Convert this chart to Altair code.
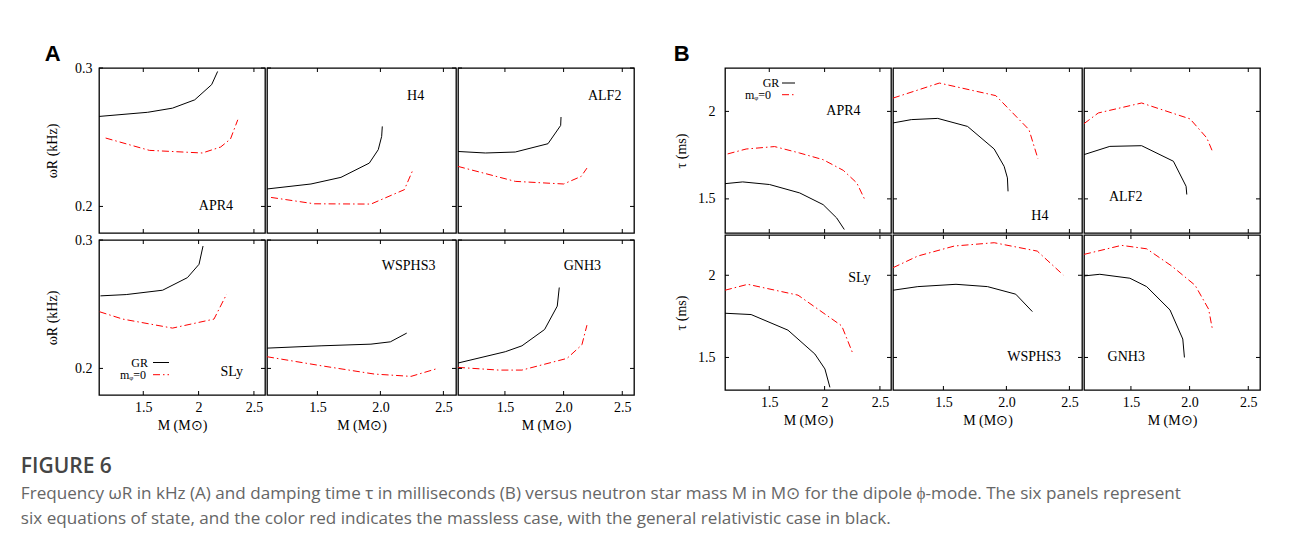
import altair as alt
import pandas as pd

# ---------------- data ----------------
X_DOMAIN = [1.1, 2.6]
X_TICKS = [1.5, 2.0, 2.5]
A_Y_TICKS = [0.2, 0.3]
B_Y_TICKS = [1.5, 2.0]
A_Y_DOMAIN_TOP = [0.1808, 0.3]
A_Y_DOMAIN_BOT = [0.1793, 0.3]
B_Y_DOMAIN_TOP = [1.305, 2.248]
B_Y_DOMAIN_BOT = [1.302, 2.245]

EOS_TOP = ["APR4", "H4", "ALF2"]
EOS_BOT = ["SLy", "WSPHS3", "GNH3"]

# (A) omega_R in kHz versus M
A_APR4_GR = [(1.10, 0.265), (1.54, 0.268), (1.764, 0.271), (1.965, 0.277), (2.118, 0.288), (2.172, 0.2975)]
A_APR4_M0 = [(1.16, 0.2494), (1.555, 0.2405), (2.034, 0.2386), (2.199, 0.2429), (2.288, 0.2487), (2.354, 0.2626)]
A_H4_GR = [(1.1, 0.2126), (1.449, 0.2162), (1.687, 0.2210), (1.912, 0.2313), (1.983, 0.2410), (2.010, 0.2506), (2.015, 0.2578)]
A_H4_M0 = [(1.132, 0.2065), (1.475, 0.2019), (1.925, 0.2017), (2.19, 0.2121), (2.256, 0.2260)]
A_ALF2_GR = [(1.1, 0.2397), (1.333, 0.2386), (1.588, 0.2393), (1.867, 0.2453), (1.975, 0.2585), (1.978, 0.2646)]
A_ALF2_M0 = [(1.1, 0.2289), (1.588, 0.2181), (2.0, 0.2162), (2.15, 0.2217), (2.199, 0.2277)]
A_SLY_GR = [(1.113, 0.2565), (1.346, 0.2575), (1.675, 0.2609), (1.899, 0.2707), (2.004, 0.2811), (2.04, 0.2953)]
A_SLY_M0 = [(1.106, 0.2441), (1.315, 0.2384), (1.764, 0.2314), (2.139, 0.2384), (2.253, 0.2578)]
A_WSPHS3_GR = [(1.1, 0.2158), (1.529, 0.2176), (1.925, 0.2189), (2.079, 0.2207), (2.209, 0.2275)]
A_WSPHS3_M0 = [(1.1, 0.2091), (1.529, 0.2021), (1.952, 0.1956), (2.243, 0.1938), (2.455, 0.2000)]
A_GNH3_GR = [(1.1, 0.2042), (1.503, 0.2130), (1.645, 0.2176), (1.838, 0.2303), (1.946, 0.2485), (1.963, 0.2630)]
A_GNH3_M0 = [(1.1, 0.2008), (1.447, 0.1987), (1.645, 0.1987), (2.029, 0.2078), (2.156, 0.2184), (2.199, 0.2337)]

# (B) damping time tau in ms versus M
B_APR4_GR = [(1.1, 1.587), (1.26, 1.597), (1.503, 1.582), (1.775, 1.534), (1.987, 1.467), (2.109, 1.391), (2.178, 1.325)]
B_APR4_M0 = [(1.124, 1.757), (1.291, 1.785), (1.548, 1.799), (1.775, 1.762), (1.987, 1.724), (2.169, 1.663), (2.291, 1.591), (2.366, 1.492)]
B_H4_GR = [(1.1, 1.934), (1.245, 1.953), (1.455, 1.960), (1.692, 1.914), (1.903, 1.785), (1.982, 1.686), (2.008, 1.620), (2.013, 1.543)]
B_H4_M0 = [(1.1, 2.076), (1.468, 2.162), (1.916, 2.090), (2.179, 1.896), (2.250, 1.730)]
B_ALF2_GR = [(1.1, 1.753), (1.32, 1.800), (1.591, 1.804), (1.862, 1.715), (1.970, 1.572), (1.976, 1.525)]
B_ALF2_M0 = [(1.1, 1.930), (1.222, 1.991), (1.591, 2.048), (2.004, 1.957), (2.147, 1.848), (2.198, 1.766)]
B_SLY_GR = [(1.1, 1.769), (1.336, 1.761), (1.669, 1.666), (1.912, 1.521), (2.003, 1.430), (2.048, 1.318)]
B_SLY_M0 = [(1.1, 1.909), (1.306, 1.945), (1.76, 1.879), (2.155, 1.692), (2.255, 1.524)]
B_WSPHS3_GR = [(1.1, 1.909), (1.297, 1.931), (1.60, 1.945), (1.85, 1.931), (2.074, 1.885), (2.206, 1.779)]
B_WSPHS3_M0 = [(1.1, 2.046), (1.297, 2.117), (1.587, 2.178), (1.903, 2.198), (2.245, 2.147), (2.451, 2.002)]
B_GNH3_GR = [(1.1, 1.996), (1.235, 2.006), (1.491, 1.982), (1.634, 1.931), (1.833, 1.789), (1.942, 1.612), (1.956, 1.500)]
B_GNH3_M0 = [(1.1, 2.127), (1.42, 2.182), (1.634, 2.161), (1.848, 2.056), (2.047, 1.939), (2.162, 1.794), (2.196, 1.666)]

# EOS label anchor points (data units)
A_LABELS = {"APR4": (2.157, 0.200), "H4": (2.28, 0.280), "ALF2": (2.35, 0.280),
            "SLy": (2.30, 0.197), "WSPHS3": (2.224, 0.2798), "GNH3": (2.16, 0.2798)}
B_LABELS = {"APR4": (2.17, 2.0), "H4": (2.266, 1.40), "ALF2": (1.455, 1.51),
            "SLy": (2.315, 1.985), "WSPHS3": (2.22, 1.50), "GNH3": (1.46, 1.50)}

LEGEND_LABELS = ["GR", "mᵩ=0"]
CAPTION_TITLE = "FIGURE 6"
CAPTION_LINES = [
    "Frequency ωR in kHz (A) and damping time τ in milliseconds (B) versus neutron star mass M in M⊙ for the dipole ϕ-mode. The six panels represent",
    "six equations of state, and the color red indicates the massless case, with the general relativistic case in black.",
]

# ---------------- styling ----------------
SERIF = "Liberation Serif"
RED = "#ff0000"
DASHDOT = [7, 3, 1.5, 3]
WIDTHS = [166, 189, 176]
H_TOP, H_BOT = 165, 155
TICK = 4
PANEL_GAP = -3


def df_of(pairs):
    return pd.DataFrame({"M": [p[0] for p in pairs], "v": [p[1] for p in pairs],
                         "i": list(range(len(pairs)))})


def panel(gr, m0, name, label_xy, ydom, yticks, w, h, col, bottom, ytitle, yfmt,
          ylabpad, ytitpad, legend=None):
    xs = alt.Scale(domain=X_DOMAIN, nice=False, zero=False)
    ys = alt.Scale(domain=ydom, nice=False, zero=False)
    xaxis = None
    if bottom:
        xaxis = alt.Axis(values=X_TICKS, format="~g" if col == 0 else ".1f", ticks=False,
                         domain=False, grid=False, labelPadding=5, labelFlush=False,
                         title="M (M⊙)", titlePadding=4)
    yaxis = None
    if col == 0:
        yaxis = alt.Axis(values=yticks, format=yfmt, ticks=False, domain=False, grid=False,
                         labelPadding=ylabpad, title=ytitle, titlePadding=ytitpad)

    def X(field):
        return alt.X(field, scale=xs, axis=xaxis)

    def Y(field):
        return alt.Y(field, scale=ys, axis=yaxis)

    gr_line = alt.Chart(df_of(gr)).mark_line(color="black", strokeWidth=1).encode(
        x=X("M:Q"), y=Y("v:Q"), order="i:Q")
    m0_line = alt.Chart(df_of(m0)).mark_line(color=RED, strokeWidth=1, strokeDash=DASHDOT).encode(
        x=X("M:Q"), y=Y("v:Q"), order="i:Q")
    lab = alt.Chart(pd.DataFrame({"M": [label_xy[0]], "v": [label_xy[1]], "t": [name]})).mark_text(
        font=SERIF, fontSize=14, color="black", align="center", baseline="middle"
    ).encode(x=X("M:Q"), y=Y("v:Q"), text="t:N")
    xt = pd.DataFrame({"M": X_TICKS})
    yt = pd.DataFrame({"v": yticks})
    tick_style = dict(color="black", strokeWidth=1)
    xb = alt.Chart(xt).mark_rule(**tick_style).encode(
        x=X("M:Q"), y=alt.value(h), y2=alt.value(h - TICK))
    xtop = alt.Chart(xt).mark_rule(**tick_style).encode(
        x=X("M:Q"), y=alt.value(0), y2=alt.value(TICK))
    yl = alt.Chart(yt).mark_rule(**tick_style).encode(
        y=Y("v:Q"), x=alt.value(0), x2=alt.value(TICK))
    yr = alt.Chart(yt).mark_rule(**tick_style).encode(
        y=Y("v:Q"), x=alt.value(w), x2=alt.value(w - TICK))

    layers = [gr_line, m0_line, lab, xb, xtop, yl, yr]

    if legend is not None:
        one = pd.DataFrame({"k": [0]})
        (gx, gy, rx, ry, l0, l1) = legend
        layers.append(alt.Chart(one).mark_text(font=SERIF, fontSize=12, align="right",
                                               baseline="middle", color="black").encode(
            x=alt.value(gx), y=alt.value(gy), text=alt.value(LEGEND_LABELS[0])))
        layers.append(alt.Chart(one).mark_text(font=SERIF, fontSize=12, align="right",
                                               baseline="middle", color="black").encode(
            x=alt.value(rx), y=alt.value(ry), text=alt.value(LEGEND_LABELS[1])))
        layers.append(alt.Chart(one).mark_rule(color="black", strokeWidth=1).encode(
            x=alt.value(l0), x2=alt.value(l1), y=alt.value(gy)))
        layers.append(alt.Chart(one).mark_rule(color=RED, strokeWidth=1, strokeDash=DASHDOT).encode(
            x=alt.value(l0), x2=alt.value(l1), y=alt.value(ry)))

    return alt.layer(*layers).properties(width=w, height=h)


A_SERIES = {
    "APR4": (A_APR4_GR, A_APR4_M0), "H4": (A_H4_GR, A_H4_M0), "ALF2": (A_ALF2_GR, A_ALF2_M0),
    "SLy": (A_SLY_GR, A_SLY_M0), "WSPHS3": (A_WSPHS3_GR, A_WSPHS3_M0), "GNH3": (A_GNH3_GR, A_GNH3_M0),
}
B_SERIES = {
    "APR4": (B_APR4_GR, B_APR4_M0), "H4": (B_H4_GR, B_H4_M0), "ALF2": (B_ALF2_GR, B_ALF2_M0),
    "SLy": (B_SLY_GR, B_SLY_M0), "WSPHS3": (B_WSPHS3_GR, B_WSPHS3_M0), "GNH3": (B_GNH3_GR, B_GNH3_M0),
}


def group(series, labels, dom_top, dom_bot, yticks, ytitle, yfmt, ylabpad, ytitpad, letter,
          title_offset, legend_top=None, legend_bot=None):
    rows = []
    for r, (names, dom, h) in enumerate([(EOS_TOP, dom_top, H_TOP), (EOS_BOT, dom_bot, H_BOT)]):
        panels = []
        for c, nm in enumerate(names):
            leg = None
            if c == 0 and r == 0:
                leg = legend_top
            if c == 0 and r == 1:
                leg = legend_bot
            gr, m0 = series[nm]
            panels.append(panel(gr, m0, nm, labels[nm], dom, yticks, WIDTHS[c], h, c, r == 1,
                                ytitle, yfmt, ylabpad, ytitpad, leg))
        rows.append(alt.hconcat(*panels, spacing=PANEL_GAP))
    return alt.vconcat(*rows, spacing=PANEL_GAP).properties(
        title=alt.Title(letter, anchor="start", font="Liberation Sans", fontSize=22,
                        fontWeight="bold", color="black", offset=title_offset))


group_a = group(A_SERIES, A_LABELS, A_Y_DOMAIN_TOP, A_Y_DOMAIN_BOT, A_Y_TICKS, "ωR (kHz)", ".1f",
                7, 15, "A", -6, legend_bot=(49, 122.5, 47, 134.7, 54, 70))
group_b = group(B_SERIES, B_LABELS, B_Y_DOMAIN_TOP, B_Y_DOMAIN_BOT, B_Y_TICKS, "τ (ms)", "~g",
                10, 9, "B", 1, legend_top=(54.3, 15, 46, 26.7, 57, 70))

chart = alt.hconcat(group_a, group_b, spacing=37).properties(
    title=alt.Title(CAPTION_TITLE, subtitle=CAPTION_LINES, orient="bottom", anchor="start",
                    dx=-24, offset=23, font="Open Sans", fontSize=21, fontWeight=600,
                    color="#454545", subtitleFont="Open Sans", subtitleFontSize=17.1,
                    subtitleColor="#666666", subtitlePadding=8, subtitleLineHeight=25),
    padding={"left": 20, "top": 42, "right": 10, "bottom": 10},
    background="white",
).configure_view(stroke="black", strokeWidth=1.3).configure_axis(
    labelFont=SERIF, labelFontSize=14, labelColor="black",
    titleFont=SERIF, titleFontSize=14, titleFontWeight="normal", titleColor="black",
)

chart.save("out.html", embed_options={"renderer": "svg", "actions": False})
